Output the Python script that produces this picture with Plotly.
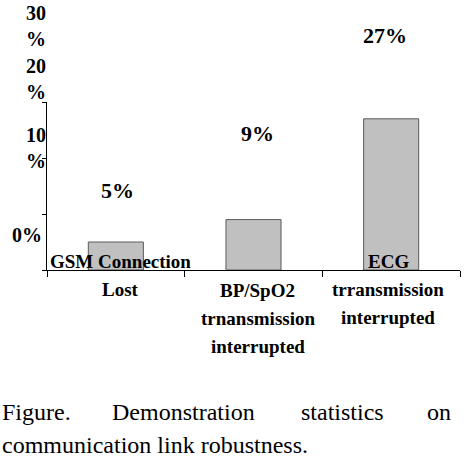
import plotly.graph_objects as go

# ---- data ----
categories = ["GSM Connection<br>Lost",
              "BP/SpO2<br>trnansmission<br>interrupted",
              "ECG<br>trransmission<br>interrupted"]
values = [5, 9, 27]
value_labels = ["5%", "9%", "27%"]
y_tick_vals = [0, 10, 20, 30]
y_tick_labels = ["0%", "10<br>%", "20<br>%", "30<br>%"]
caption_line1 = ["Figure.", "Demonstration", "statistics", "on"]
caption_line2 = "communication link robustness."

# ---- layout geometry (pixels) ----
W, H = 466, 462
L, R, T, B = 47, 460, 102, 270


def px(x):
    return (x - L) / (R - L)


def py(y):
    return (B - y) / (B - T)


FONT = "Liberation Serif"

fig = go.Figure(go.Bar(
    x=categories, y=values, width=0.4,
    marker=dict(color="#c0c0c0", line=dict(color="#5a5a5a", width=1)),
    hoverinfo="skip",
))

ann = []
# value labels (placed high above bars, as in reference)
val_pos = [(117, 190), (257, 133), (385, 35)]
for (cx, cy), t in zip(val_pos, value_labels):
    ann.append(dict(x=px(cx), y=py(cy), xref="paper", yref="paper",
                    text="<b>%s</b>" % t, showarrow=False,
                    xanchor="center", yanchor="middle",
                    font=dict(family=FONT, size=22, color="black")))

# y tick labels (misplaced relative to ticks, as in reference)
ytl_pos = [(27, 235), (36, 148), (36, 79), (36, 26)]
for (cx, cy), t in zip(ytl_pos, y_tick_labels):
    ann.append(dict(x=px(cx), y=py(cy), xref="paper", yref="paper",
                    text="<b>%s</b>" % t, showarrow=False, borderpad=0,
                    xanchor="center", yanchor="middle", align="center",
                    font=dict(family=FONT, size=20, color="black")))

# category labels, one line at a time
first_line_y = [261, 290, 261]
x_off = [5, 4, -3]
for cat, y0, dx in zip(categories, first_line_y, x_off):
    idx = categories.index(cat)
    cx = L + (R - L) * (idx + 0.5) / len(categories) + dx
    for i, ln in enumerate(cat.split("<br>")):
        ann.append(dict(x=px(cx), y=py(y0 + 28 * i), xref="paper", yref="paper",
                        text="<b>%s</b>" % ln, showarrow=False,
                        xanchor="center", yanchor="middle",
                        font=dict(family=FONT, size=19, color="black")))

# caption (justified first line)
cap1_pos = [(0, "left"), (110, "left"), (299, "left"), (453, "right")]
for (cx, anc), w in zip(cap1_pos, caption_line1):
    ann.append(dict(x=px(cx), y=py(412), xref="paper", yref="paper",
                    text=w, showarrow=False, xanchor=anc, yanchor="middle",
                    font=dict(family=FONT, size=24, color="black")))
ann.append(dict(x=px(0), y=py(445), xref="paper", yref="paper",
                text=caption_line2, showarrow=False, xanchor="left",
                yanchor="middle",
                font=dict(family=FONT, size=24, color="black")))

fig.update_layout(
    width=W, height=H,
    margin=dict(l=L, r=W - R, t=T, b=H - B, pad=0),
    paper_bgcolor="white", plot_bgcolor="white",
    showlegend=False,
    annotations=ann,
    xaxis=dict(type="category", tickson="boundaries", ticks="outside",
               ticklen=6, tickcolor="black", showticklabels=False,
               showline=True, linecolor="black", linewidth=1,
               showgrid=False, zeroline=False, fixedrange=True),
    yaxis=dict(range=[0, 30], tickvals=y_tick_vals, ticks="outside",
               ticklen=4, tickcolor="black", showticklabels=False,
               showline=True, linecolor="black", linewidth=1,
               showgrid=False, zeroline=False, fixedrange=True),
)

fig.write_html("out.html", config=dict(displayModeBar=False))
